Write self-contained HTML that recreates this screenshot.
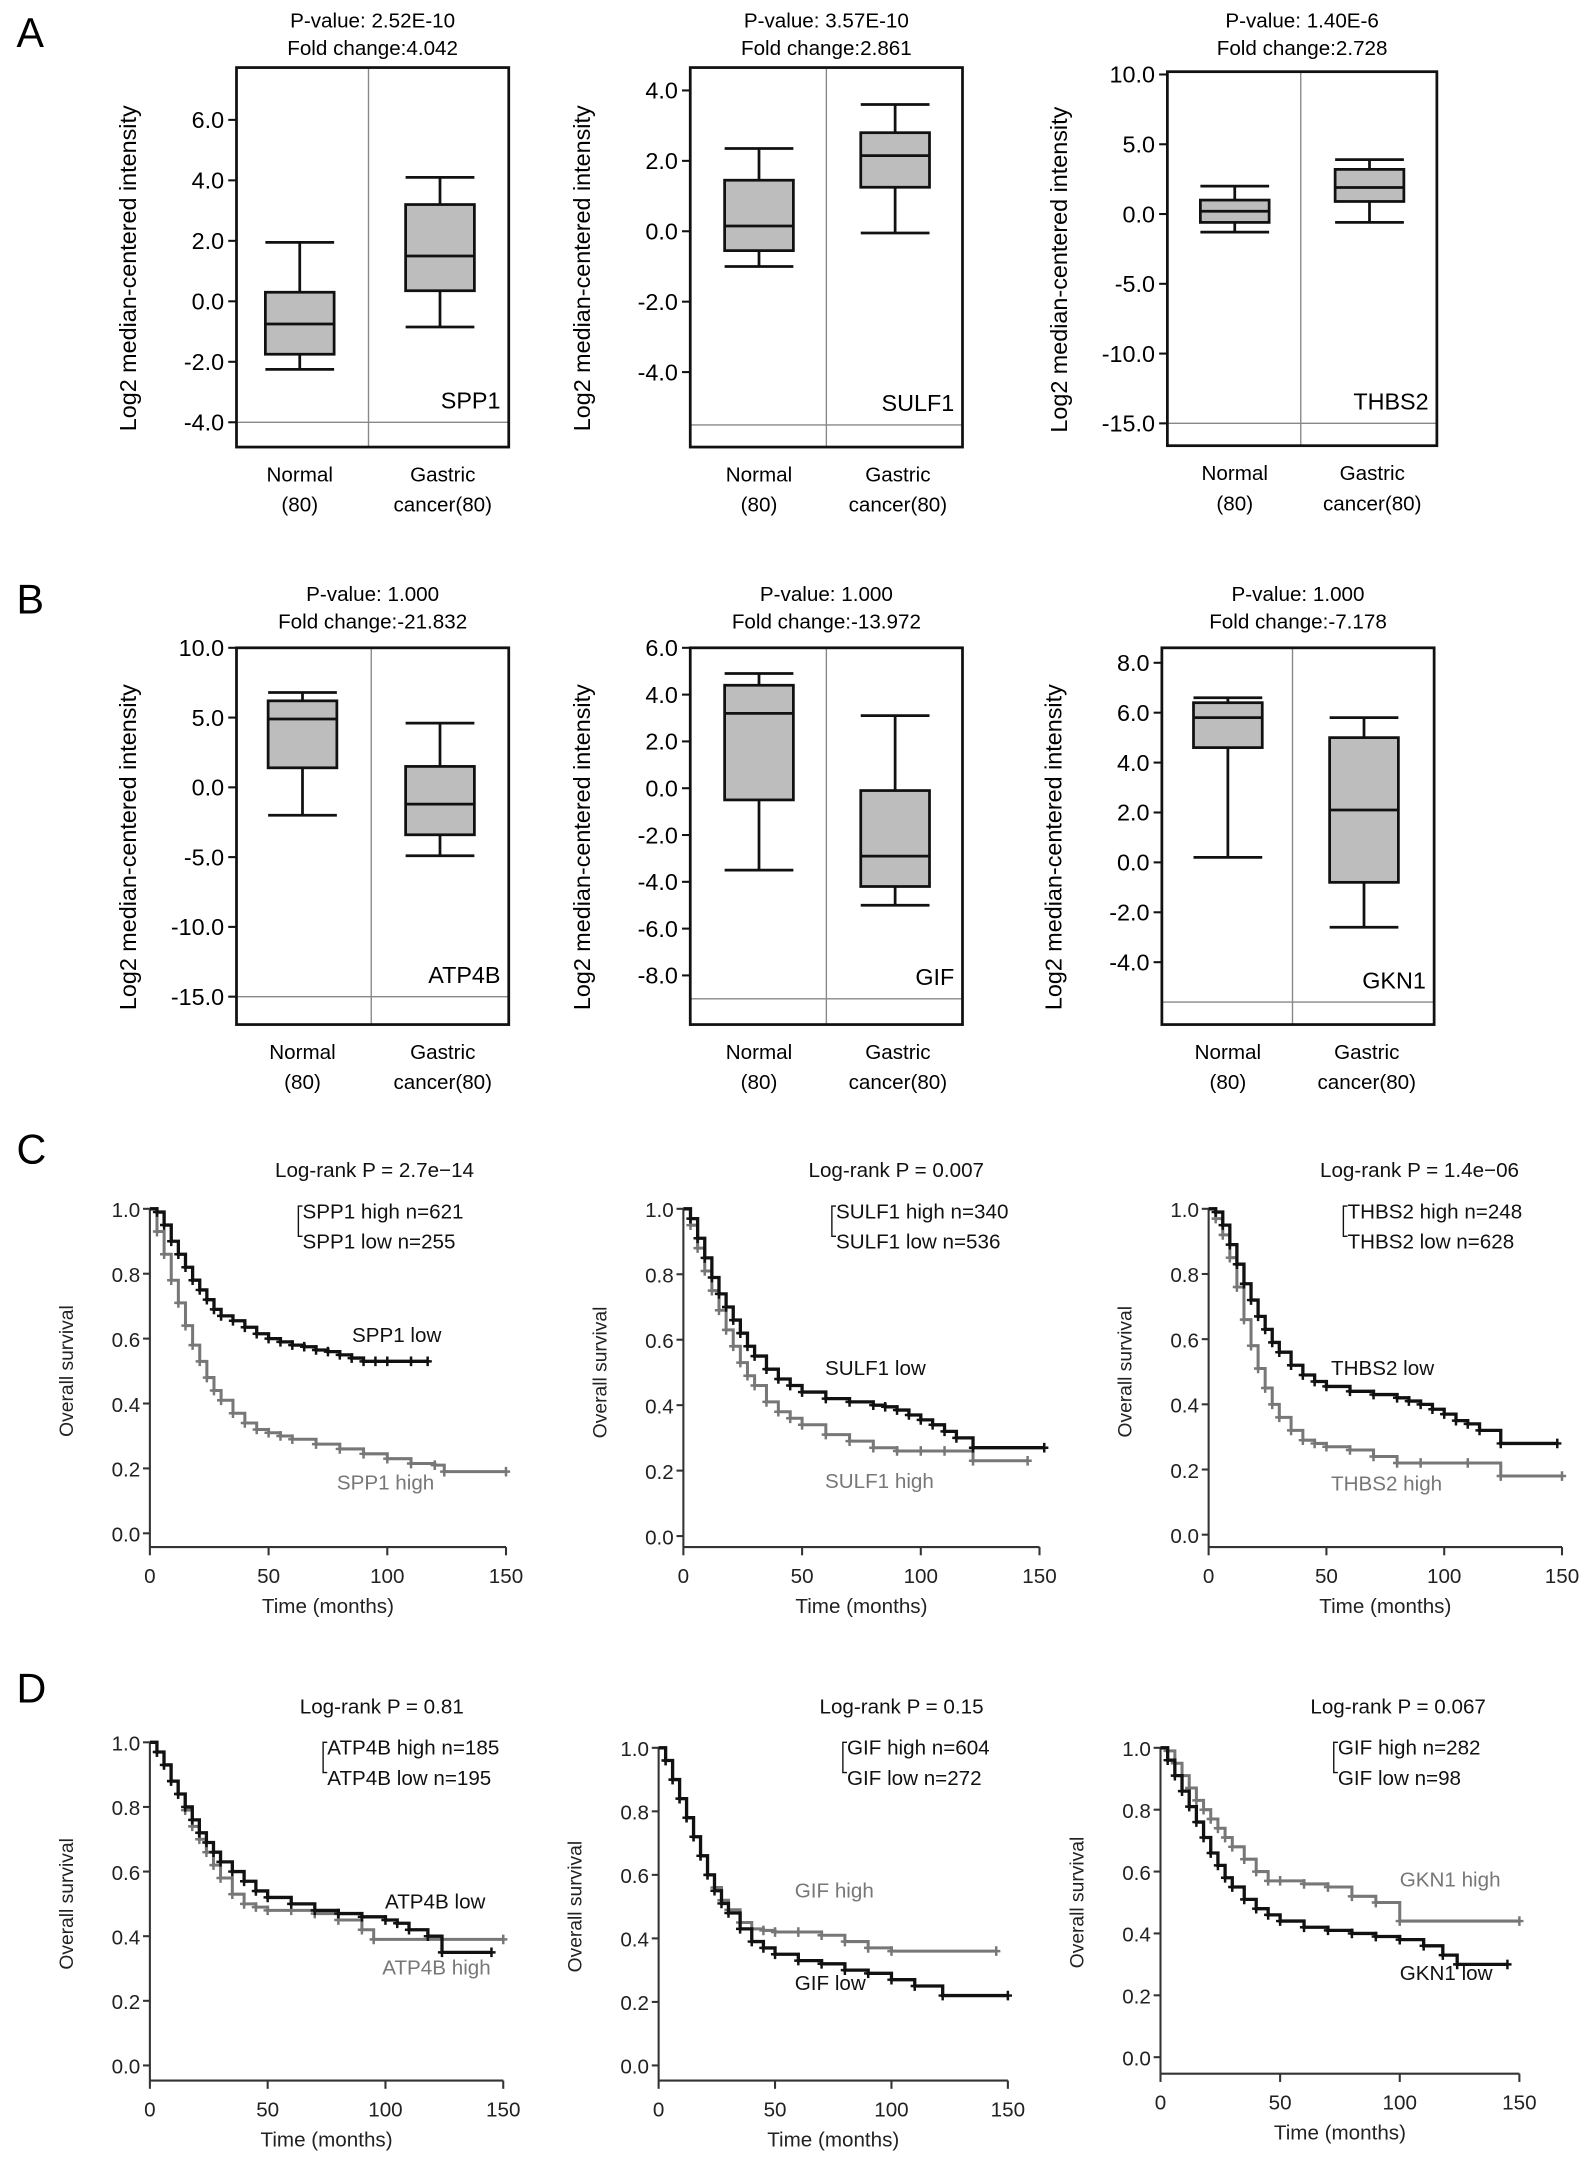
<!DOCTYPE html>
<html><head><meta charset="utf-8">
<style>
html,body{margin:0;padding:0;background:#fff;}
svg{display:block;font-family:"Liberation Sans",Arial,sans-serif;}
</style></head>
<body>
<svg id="fig" xmlns="http://www.w3.org/2000/svg" width="1595" height="2166" viewBox="0 0 1160 1575">
<rect x="0" y="0" width="1160" height="1575" fill="#fff"/>
<text x="12" y="34" font-size="30">A</text>
<text x="12" y="446" font-size="30">B</text>
<text x="12" y="846" font-size="30">C</text>
<text x="12" y="1238" font-size="30">D</text>
</svg>
<script>
// ===== Box plot data =====
const boxGenes = ["SPP1","SULF1","THBS2","ATP4B","GIF","GKN1"];
const boxPvals = ["P-value: 2.52E-10","P-value: 3.57E-10","P-value: 1.40E-6","P-value: 1.000","P-value: 1.000","P-value: 1.000"];
const boxFolds = ["Fold change:4.042","Fold change:2.861","Fold change:2.728","Fold change:-21.832","Fold change:-13.972","Fold change:-7.178"];
const boxTicks = [
  [6,4,2,0,-2,-4],
  [4,2,0,-2,-4],
  [10,5,0,-5,-10,-15],
  [10,5,0,-5,-10,-15],
  [6,4,2,0,-2,-4,-6,-8],
  [8,6,4,2,0,-2,-4]
];
const boxDomains = [[-4.82,7.73],[-6.13,4.65],[-16.6,10.2],[-17.0,10.0],[-10.1,6.0],[-6.5,8.6]];
const boxBaselines = [-4,-5.5,-15,-15,-9,-5.6];
// [whiskerHigh, q3, median, q1, whiskerLow]
const normalStats = [
  [1.95,0.3,-0.75,-1.75,-2.25],
  [2.35,1.45,0.15,-0.55,-1.0],
  [2.0,1.0,0.2,-0.6,-1.3],
  [6.8,6.2,4.9,1.4,-2.0],
  [4.9,4.4,3.2,-0.5,-3.5],
  [6.6,6.4,5.8,4.6,0.2]
];
const cancerStats = [
  [4.1,3.2,1.5,0.35,-0.85],
  [3.6,2.8,2.15,1.25,-0.05],
  [3.9,3.2,1.9,0.9,-0.6],
  [4.6,1.5,-1.2,-3.4,-4.9],
  [3.1,-0.1,-2.9,-4.2,-5.0],
  [5.8,5.0,2.1,-0.8,-2.6]
];
const boxTickDecimals = [1,1,1,1,1,1];

// ===== KM data =====
const kmLegendP = ["Log-rank P = 2.7e\u221214","Log-rank P = 0.007","Log-rank P = 1.4e\u221206","Log-rank  P = 0.81","Log-rank  P = 0.15","Log-rank  P = 0.067"];
const kmLegendHigh = ["SPP1 high n=621","SULF1 high n=340","THBS2 high n=248","ATP4B high n=185","GIF high n=604","GIF high n=282"];
const kmLegendLow = ["SPP1 low  n=255","SULF1 low  n=536","THBS2 low  n=628","ATP4B low  n=195","GIF low  n=272","GIF low  n=98"];
const kmLowLabel = ["SPP1 low","SULF1 low","THBS2 low","ATP4B low","GIF low","GKN1 low"];
const kmHighLabel = ["SPP1 high","SULF1 high","THBS2 high","ATP4B high","GIF high","GKN1 high"];
const kmXTicks = [0,50,100,150];
const kmYTicks = [0.0,0.2,0.4,0.6,0.8,1.0];

const lowTimes = [
  [0,3,6,9,12,15,18,21,24,27,30,35,40,45,50,55,60,65,70,75,80,85,90,95,100,110,117],
  [0,3,6,9,12,15,18,21,24,27,30,35,40,45,50,60,70,80,85,90,95,100,105,110,115,122,152],
  [0,3,6,9,12,15,18,21,24,27,30,35,40,45,50,60,70,80,85,90,95,100,105,110,115,124,148],
  [0,3,6,9,12,15,18,21,24,27,30,35,40,45,50,60,70,80,90,100,105,110,118,124,145],
  [0,3,6,9,12,15,18,21,24,27,30,35,40,45,50,60,70,80,90,100,110,122,150],
  [0,3,6,9,12,15,18,21,24,27,30,35,40,45,50,60,70,80,90,100,110,118,124,145]
];
const lowSurv = [
  [1,0.99,0.95,0.9,0.86,0.82,0.78,0.75,0.72,0.69,0.67,0.655,0.635,0.615,0.6,0.59,0.58,0.575,0.565,0.56,0.55,0.54,0.53,0.53,0.53,0.53,0.53],
  [1,0.97,0.91,0.85,0.79,0.74,0.7,0.66,0.62,0.58,0.55,0.51,0.48,0.46,0.44,0.42,0.41,0.4,0.395,0.385,0.37,0.355,0.34,0.32,0.3,0.27,0.27],
  [1,0.99,0.95,0.89,0.83,0.77,0.72,0.67,0.63,0.59,0.56,0.52,0.49,0.47,0.455,0.44,0.43,0.42,0.41,0.4,0.385,0.37,0.35,0.34,0.32,0.28,0.28],
  [1,0.97,0.93,0.88,0.84,0.8,0.76,0.72,0.69,0.66,0.63,0.6,0.57,0.54,0.52,0.5,0.48,0.47,0.46,0.45,0.44,0.42,0.4,0.35,0.35],
  [1,0.96,0.9,0.84,0.78,0.72,0.66,0.6,0.55,0.51,0.48,0.43,0.39,0.37,0.35,0.33,0.32,0.3,0.29,0.27,0.25,0.22,0.22],
  [1,0.96,0.91,0.86,0.81,0.76,0.71,0.66,0.62,0.58,0.55,0.51,0.48,0.46,0.44,0.42,0.41,0.4,0.39,0.38,0.36,0.33,0.3,0.3]
];
const highTimes = [
  [0,3,6,9,12,15,18,21,24,27,30,35,40,45,50,55,60,70,80,90,100,110,120,124,150],
  [0,3,6,9,12,15,18,21,24,27,30,35,40,45,50,60,70,80,90,100,110,122,145],
  [0,3,6,9,12,15,18,21,24,27,30,35,40,45,50,60,70,80,90,110,124,150],
  [0,3,6,9,12,15,18,21,24,27,30,35,40,45,50,60,70,80,90,95,150],
  [0,3,6,9,12,15,18,21,24,27,30,35,40,45,50,60,70,80,90,100,145],
  [0,3,6,9,12,15,18,21,24,27,30,35,40,45,50,60,70,80,90,100,150]
];
const highSurv = [
  [1,0.93,0.86,0.78,0.71,0.64,0.58,0.53,0.48,0.44,0.41,0.37,0.34,0.32,0.31,0.3,0.29,0.275,0.26,0.245,0.23,0.215,0.21,0.19,0.19],
  [1,0.95,0.88,0.81,0.75,0.69,0.63,0.58,0.53,0.49,0.46,0.41,0.38,0.36,0.34,0.31,0.29,0.27,0.26,0.26,0.26,0.23,0.23],
  [1,0.97,0.92,0.85,0.76,0.66,0.58,0.51,0.45,0.4,0.36,0.32,0.29,0.28,0.27,0.26,0.24,0.22,0.22,0.22,0.18,0.18],
  [1,0.97,0.93,0.88,0.84,0.79,0.74,0.7,0.66,0.62,0.58,0.53,0.5,0.49,0.48,0.48,0.47,0.45,0.42,0.39,0.39],
  [1,0.96,0.9,0.84,0.78,0.72,0.66,0.6,0.56,0.52,0.49,0.45,0.43,0.425,0.42,0.42,0.41,0.39,0.37,0.36,0.36],
  [1,0.99,0.95,0.91,0.87,0.83,0.8,0.77,0.74,0.71,0.68,0.64,0.6,0.57,0.57,0.56,0.55,0.52,0.5,0.44,0.44]
];

const NS="http://www.w3.org/2000/svg";
const svg=document.getElementById('fig');
function mk(tag,attrs,parent,text){const e=document.createElementNS(NS,tag);for(const k in attrs)e.setAttribute(k,attrs[k]);if(text!==undefined)e.textContent=text;(parent||svg).appendChild(e);return e;}

// layout (not data)
const boxLayout=[
  {x0:172,x1:370,y0:49,y1:325,div:268,cn:218,cc:320,ty:20},
  {x0:502,x1:700,y0:49,y1:325,div:601,cn:552,cc:651,ty:20},
  {x0:849,x1:1045,y0:52,y1:324,div:946,cn:898,cc:996,ty:20},
  {x0:172,x1:370,y0:471,y1:745,div:270,cn:220,cc:320,ty:437},
  {x0:502,x1:700,y0:471,y1:745,div:601,cn:552,cc:651,ty:437},
  {x0:845,x1:1043,y0:471,y1:745,div:940,cn:893,cc:992,ty:437}
];
boxLayout.forEach((L,i)=>{
  const g=mk('g',{});
  
  
  const [dmin,dmax]=boxDomains[i];
  const y=v=>L.y1-(v-dmin)/(dmax-dmin)*(L.y1-L.y0);
  const cx=(L.x0+L.x1)/2;
  let t=mk('text',{x:cx,y:L.ty,'font-size':15,'text-anchor':'middle'},g,boxPvals[i]);
  
  t=mk('text',{x:cx,y:L.ty+20,'font-size':15,'text-anchor':'middle'},g,boxFolds[i]);
  
  let l=mk('line',{x1:L.x0,x2:L.x1,y1:y(boxBaselines[i]),y2:y(boxBaselines[i]),stroke:'#888','stroke-width':1},g);
  
  l=mk('line',{x1:L.div,x2:L.div,y1:L.y0,y2:L.y1,stroke:'#888','stroke-width':1},g);
  
  [[normalStats[i],L.cn,'normal'],[cancerStats[i],L.cc,'cancer']].forEach(([s,c,nm])=>{
    const hw=25;
    const bg=mk('g',{stroke:'#111','stroke-width':2,fill:'none'},g);
    
    mk('line',{x1:c,x2:c,y1:y(s[0]),y2:y(s[4])},bg);
    mk('line',{x1:c-hw,x2:c+hw,y1:y(s[0]),y2:y(s[0])},bg);
    mk('line',{x1:c-hw,x2:c+hw,y1:y(s[4]),y2:y(s[4])},bg);
    mk('rect',{x:c-hw,y:y(s[1]),width:2*hw,height:y(s[3])-y(s[1]),fill:'#bdbdbd'},bg);
    mk('line',{x1:c-hw,x2:c+hw,y1:y(s[2]),y2:y(s[2])},bg);
  });
  let fr=mk('rect',{x:L.x0,y:L.y0,width:L.x1-L.x0,height:L.y1-L.y0,fill:'none',stroke:'#111','stroke-width':2},g);
  
  boxTicks[i].forEach(v=>{
    mk('line',{x1:L.x0-6,x2:L.x0,y1:y(v),y2:y(v),stroke:'#111','stroke-width':1.5},g);
    const tt=mk('text',{x:L.x0-9,y:y(v)+6,'font-size':17,'text-anchor':'end'},g,v.toFixed(boxTickDecimals[i]));
    
  });
  t=mk('text',{x:L.x1-6,y:y(boxBaselines[i])-10,'font-size':17,'text-anchor':'end'},g,boxGenes[i]);
  
  const ymid=(L.y0+L.y1)/2;
  t=mk('text',{x:0,y:0,'font-size':17,'text-anchor':'middle',transform:`translate(${L.x0-73},${ymid+8}) rotate(-90)`},g,'Log2 median-centered intensity');
  
  [['Normal',L.cn,0],['(80)',L.cn,1],['Gastric',L.cc+2,0],['cancer(80)',L.cc+2,1]].forEach(([s,x,r])=>{
    const c=mk('text',{x:x,y:L.y1+25+r*22,'font-size':15,'text-anchor':'middle'},g,s);
    
  });
});

// ===== KM plots =====
const kmLayout=[
  {x0:109,x1:368,yt:879,yb:1115,ax:1125,lx:200,ly:856,hl:[245,1083],ll:[256,976]},
  {x0:497,x1:756,yt:879,yb:1117,ax:1125,lx:588,ly:856,hl:[600,1082],ll:[600,1000]},
  {x0:879,x1:1136,yt:879,yb:1116,ax:1125,lx:960,ly:856,hl:[968,1084],ll:[968,1000]},
  {x0:109,x1:366,yt:1267,yb:1502,ax:1513,lx:218,ly:1246,hl:[278,1436],ll:[280,1388]},
  {x0:479,x1:733,yt:1271,yb:1502,ax:1513,lx:596,ly:1246,hl:[578,1380],ll:[578,1447]},
  {x0:844,x1:1105,yt:1271,yb:1496,ax:1508,lx:953,ly:1246,hl:[1018,1372],ll:[1018,1440]}
];
kmLayout.forEach((L,i)=>{
  const g=mk('g',{});
  
  
  const X=t=>L.x0+t/150*(L.x1-L.x0);
  const Y=s=>L.yb-s*(L.yb-L.yt);
  mk('line',{x1:L.x0,x2:L.x0,y1:Y(1),y2:L.ax,stroke:'#333','stroke-width':1.5},g);
  mk('line',{x1:L.x0,x2:L.x1,y1:L.ax,y2:L.ax,stroke:'#333','stroke-width':1.5},g);
  kmYTicks.forEach(v=>{
    mk('line',{x1:L.x0-5,x2:L.x0,y1:Y(v),y2:Y(v),stroke:'#333','stroke-width':1.5},g);
    const t=mk('text',{x:L.x0-7,y:Y(v)+6,'font-size':15,'text-anchor':'end',fill:'#222'},g,v.toFixed(1));
    
  });
  kmXTicks.forEach(v=>{
    mk('line',{x1:X(v),x2:X(v),y1:L.ax,y2:L.ax+6,stroke:'#333','stroke-width':1.5},g);
    const t=mk('text',{x:X(v),y:L.ax+26,'font-size':15,'text-anchor':'middle',fill:'#222'},g,String(v));
    
  });
  let t=mk('text',{x:(L.x0+L.x1)/2,y:L.ax+48,'font-size':15,'text-anchor':'middle',fill:'#222'},g,'Time (months)');
  
  t=mk('text',{x:0,y:0,'font-size':14,'text-anchor':'middle',fill:'#222',transform:`translate(${L.x0-56},${(L.yt+L.yb)/2}) rotate(-90)`},g,'Overall survival');
  
  [[highTimes[i],highSurv[i],'#777','high',2.2],[lowTimes[i],lowSurv[i],'#111','low',2.4]].forEach(([ts,ss,col,nm,sw])=>{
    let d=`M${X(ts[0])},${Y(ss[0])}`;
    for(let k=1;k<ts.length;k++){d+=` H${X(ts[k])} V${Y(ss[k])}`;}
    const p=mk('path',{d:d,fill:'none',stroke:col,'stroke-width':sw},g);
    
    for(let k=1;k<ts.length;k++){
      const cx=X(ts[k]),cy=Y(ss[k]);
      const m=mk('path',{d:`M${cx-3},${cy} H${cx+3} M${cx},${cy-3.5} V${cy+3.5}`,stroke:col,'stroke-width':1.8},g);
      
    }
  });
  t=mk('text',{x:L.lx,y:L.ly,'font-size':15,fill:'#111'},g,kmLegendP[i]);
  
  mk('path',{d:`M${L.lx+20},${L.ly+21} H${L.lx+17} V${L.ly+43} H${L.lx+20}`,fill:'none',stroke:'#111','stroke-width':1},g);
  t=mk('text',{x:L.lx+20,y:L.ly+30,'font-size':15,fill:'#111','xml:space':'preserve'},g,kmLegendHigh[i]);
  
  t=mk('text',{x:L.lx+20,y:L.ly+52,'font-size':15,fill:'#111','xml:space':'preserve'},g,kmLegendLow[i]);
  
  t=mk('text',{x:L.ll[0],y:L.ll[1],'font-size':15,fill:'#111'},g,kmLowLabel[i]);
  
  t=mk('text',{x:L.hl[0],y:L.hl[1],'font-size':15,fill:'#777'},g,kmHighLabel[i]);
  
});
</script>
</body></html>
